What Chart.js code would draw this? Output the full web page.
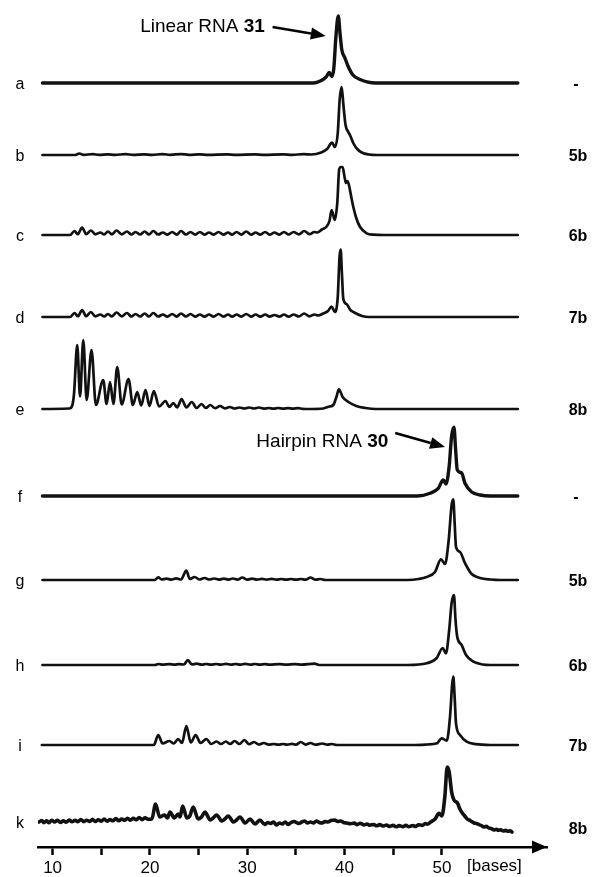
<!DOCTYPE html>
<html>
<head>
<meta charset="utf-8">
<script src="https://cdn.jsdelivr.net/npm/chart.js@4.4.1/dist/chart.umd.min.js"></script>
<style>
  html, body { margin: 0; padding: 0; background: #fff; }
  #wrap { width: 594px; height: 877px; }
</style>
</head>
<body>
<div id="wrap"><canvas id="gelChart" width="594" height="877"></canvas></div>
<script>
// lanes, top to bottom
const laneNames = ['a', 'b', 'c', 'd', 'e', 'f', 'g', 'h', 'i', 'k'];
const laneTags = ['-', '5b', '6b', '7b', '8b', '-', '5b', '6b', '7b', '8b'];
// baseline of every lane on the shared intensity axis
const laneOffsets = [764, 692, 612, 530, 438, 351, 267, 182, 102, 25];
const tickValues = [10, 15, 20, 25, 30, 35, 40, 45, 50];

// [bases, signal]
const traceA = [[8.96,0],[36.8,0],[37.5,2],[38.1,6],[38.43,10.5],[38.67,6.5],[38.9,15],[39.1,45],[39.35,67],[39.55,48],
  [39.72,33],[40.04,25],[40.35,17],[40.86,8],[41.6,3.5],[42.3,1.2],[43.2,0],[57.8,0]];

const traceB = [[8.96,0],[12.3,0],[12.75,1.5],[13.2,0.2],[14.1,0.8],[14.8,0.2],[15.7,0.7],[16.4,0.2],[17.5,0.8],[18.3,0.2],
  [19.4,0.7],[20.2,0.2],[21.3,0.8],[22.1,0.2],[23.2,0.9],[24.0,0.2],[25.1,0.7],[26,0.2],[27.9,0.6],[28.8,0.2],
  [30.8,0.7],[31.7,0.2],[33.7,0.6],[34.6,0.2],[35.8,0.8],[36.6,0.5],[37.6,2.5],[38.2,6],[38.71,12.3],[39.01,8],
  [39.3,22],[39.5,56],[39.7,68],[39.88,50],[40.1,30],[40.38,23],[40.6,19],[40.89,12],[41.3,6],[41.76,2.5],[42.5,0.5],[43.3,0],[57.8,0]];

const traceC = [[8.96,0],[11.8,0],[12.25,4],[12.6,0.8],[13.03,7.5],[13.45,0.8],[13.93,4.5],[14.4,0.6],[14.9,2.5],[15.3,0.5],
  [15.68,3.5],[16.1,0.6],[16.57,4.5],[17.1,0.6],[17.63,3.5],[18.1,0.5],[18.52,3],[19.0,0.5],[19.46,3.5],[19.9,0.5],
  [20.35,4],[20.85,0.5],[21.33,2.5],[21.8,0.4],[22.29,3],[22.75,0.4],[23.2,4],[23.7,0.5],[24.16,3],[24.65,0.4],
  [25.14,3],[25.6,0.4],[26.07,2.5],[26.55,0.4],[27.05,3],[27.55,0.4],[28.02,2.5],[28.45,0.4],[28.91,3],[29.4,0.4],
  [29.89,3.5],[30.4,0.4],[30.86,2.5],[31.35,0.4],[31.84,3],[32.3,0.4],[32.81,2.5],[33.3,0.4],[33.78,3],[34.25,0.5],
  [34.76,3],[35.3,0.6],[35.85,4],[36.4,0.8],[36.9,3],[37.2,2.5],[37.67,5.5],[38.16,8.5],[38.45,14],[38.67,25],
  [39.0,15],[39.25,32],[39.45,66],[39.62,68],[39.8,68],[40.0,58],[40.15,52],[40.3,54],[40.45,50],[40.65,40],
  [40.9,28],[41.2,17],[41.58,8.3],[42.27,1.7],[43,0.3],[44,0],[57.8,0]];

const traceD = [[8.96,0],[11.8,0],[12.25,4],[12.6,0.8],[13.03,7],[13.45,0.8],[13.93,5],[14.4,0.6],[14.9,2.5],[15.3,0.5],
  [15.68,3],[16.1,0.6],[16.57,4.5],[17.1,0.6],[17.63,4],[18.1,0.5],[18.52,3],[19.0,0.5],[19.46,3.5],[19.9,0.5],
  [20.35,4],[20.85,0.5],[21.33,2.5],[21.8,0.4],[22.29,3],[22.75,0.4],[23.2,3.5],[23.7,0.5],[24.16,3],[24.65,0.4],
  [25.14,2.5],[25.6,0.4],[26.07,2.5],[26.55,0.4],[27.05,3],[27.55,0.4],[28.02,2.5],[28.45,0.4],[28.91,2.5],[29.4,0.4],
  [29.89,3],[30.4,0.4],[30.86,2.5],[31.35,0.4],[31.84,2.5],[32.3,0.4],[32.81,2],[33.3,0.4],[33.78,2.5],[34.25,0.4],
  [34.76,2.5],[35.3,0.5],[35.85,3.5],[36.4,0.6],[36.9,2.5],[37.3,1.5],[37.8,3.5],[38.3,6],[38.67,10.5],[39.0,5],
  [39.3,20],[39.48,60],[39.6,67.5],[39.72,45],[39.87,18],[40.2,13],[40.6,7],[40.9,5],[41.8,1],[42.5,0],[57.8,0]];

const traceE = [[8.96,0],[11.7,0.5],[12.0,3],[12.2,15],[12.53,64],[12.82,12.5],[13.15,69],[13.5,9],[14.0,59],[14.45,4],
  [15.2,29],[15.55,5],[15.9,27],[16.25,5],[16.64,42],[17.1,4.5],[17.8,30],[18.25,4],[18.7,17],[19.1,3.5],
  [19.55,19],[19.95,3],[20.4,18],[20.95,2.5],[21.6,8],[22.0,2],[22.4,6],[22.8,1.5],[23.25,10],[23.75,1.5],
  [24.3,7],[24.8,1],[25.3,5],[25.75,1],[26.2,4],[26.7,0.8],[27.2,3],[27.7,0.6],[28.2,2],[28.7,0.5],
  [29.2,1.5],[29.7,0.5],[30.2,1.5],[30.7,0.5],[31.2,1.5],[31.7,0.4],[32.2,1],[32.7,0.3],[33.2,1],[33.7,0.3],
  [34.2,0.8],[34.7,0.3],[35.2,0.8],[35.7,0.2],[36.3,0],[37.8,0.5],[38.45,2.5],[38.84,4],[39.16,12],[39.42,19.7],
  [39.8,12],[40.4,7],[41.2,3],[42.15,1],[43.2,0],[57.8,0]];

const traceF = [[8.96,0],[47.5,0],[48.78,2.7],[49.63,7.7],[50.14,16],[50.42,12],[50.75,30],[51.0,60],[51.24,68.7],[51.42,45],
  [51.58,26],[52.03,23],[52.37,12.7],[53.06,4],[53.92,1],[55,0],[57.8,0]];

const traceG = [[8.96,0],[20.5,0],[20.86,2.7],[21.2,0.5],[21.7,1.3],[22.2,0.4],[22.7,1.7],[23.2,0.5],[23.74,9.3],[24.1,1],
  [24.6,3],[25.1,0.5],[25.6,2],[26.1,0.5],[26.6,1.5],[27.1,0.4],[27.6,1.3],[28.1,0.4],[28.5,1.5],[29.0,0.4],
  [29.5,2.5],[30.0,0.4],[30.5,1.3],[31.0,0.4],[31.5,1.2],[32.0,0.3],[32.5,1.2],[33.0,0.3],[33.5,1],[34.0,0.3],
  [34.5,1],[35.0,0.3],[35.5,1],[36.0,0.3],[36.5,2.5],[37.0,0.3],[37.5,1],[38,0],[46.5,0],[47.6,1],
  [48.44,3],[49.29,8],[49.9,20.7],[50.32,16],[50.7,40],[51.0,75],[51.17,80.7],[51.32,55],[51.45,33],[51.86,28],
  [52.37,17],[53.06,6],[53.92,2],[55,0.5],[56,0],[57.8,0]];

const traceH = [[8.96,0],[20.5,0],[20.9,1],[21.3,0.3],[22,0.8],[22.5,0.3],[23,0.8],[23.5,0.5],[23.9,5],[24.3,0.5],
  [24.8,1.3],[25.3,0.4],[25.8,1],[26.3,0.3],[26.8,1],[27.3,0.3],[27.8,1.2],[28.3,0.3],[28.8,1],[29.3,0.3],
  [29.8,1.2],[30.3,0.3],[30.8,1],[31.3,0.3],[31.8,0.9],[32.3,0.3],[33.3,0.8],[34.0,0.3],[34.9,0.8],[35.6,0.3],
  [36.9,1.3],[37.4,0],[46.5,0],[48.44,1.7],[49.47,7],[50.08,17],[50.42,11.7],[50.75,35],[51.0,62],[51.24,70],
  [51.4,45],[51.58,28],[52.03,20],[52.48,10],[53.23,3.3],[54.2,0.5],[55,0],[57.8,0]];

const traceI = [[8.9,0],[20.4,0],[20.86,10],[21.3,1.5],[22.0,4],[22.45,1.5],[22.9,6],[23.3,2],[23.74,19],[24.2,2.5],
  [24.7,10],[25.2,2],[25.8,6],[26.3,1],[26.85,3.5],[27.3,1],[27.8,3.5],[28.25,1],[28.7,4],[29.2,1],
  [29.7,5],[30.2,0.8],[30.7,3],[31.2,0.5],[31.7,2],[32.2,0.4],[32.7,1],[33.2,0.3],[33.7,1],[34.1,0.3],
  [34.6,1.2],[35.0,0.3],[35.5,3],[36.0,0.4],[36.5,2],[37.0,0.3],[37.7,1.5],[38.2,0.3],[38.7,1],[39.2,0],
  [47,0],[48.5,0.5],[49.5,1.7],[49.98,6.7],[50.5,4.3],[50.85,30],[51.05,60],[51.17,68.3],[51.3,50],[51.45,21.7],
  [51.86,10],[52.55,3.3],[53.5,0.8],[55,0],[57.8,0]];

const traceK = [[8.6,0],[8.9,1.5],[9.1,-0.6],[9.4,1.2],[9.6,-0.8],[9.9,1.6],[10.2,0],[10.5,1.8],[10.8,-0.5],[11.1,1.2],
  [11.4,-0.2],[11.7,2],[12.0,0.2],[12.3,1.6],[12.6,0.4],[12.9,2.4],[13.2,0.4],[13.5,1.8],[13.8,0.6],[14.1,2.6],
  [14.4,0.6],[14.7,2.2],[15.0,0.8],[15.3,3],[15.6,0.8],[15.9,2.4],[16.2,1.2],[16.5,3.4],[16.8,1.2],[17.1,3],
  [17.4,1.8],[17.7,3.8],[18.0,1.8],[18.3,3.6],[18.6,2.2],[18.9,4.4],[19.2,2.4],[19.5,4.2],[19.8,2.8],[20.2,3],
  [20.58,18],[21.0,5],[21.5,7],[21.8,4],[22.06,10],[22.5,4],[22.9,8],[23.1,5],[23.36,16],[23.8,4],
  [24.1,6],[24.45,15],[24.95,3],[25.3,5],[25.65,10],[26.2,2],[26.5,4],[26.85,7],[27.4,1],[27.7,3],
  [28.05,6],[28.6,0],[28.9,2],[29.25,5],[29.8,-1],[30.28,3],[30.8,-2],[31.3,2],[31.8,-2.5],[32.1,-0.5],
  [32.4,-1.5],[32.7,0],[33,-3],[33.3,-1],[33.6,-2],[33.9,0],[34.2,-2.5],[34.5,-0.5],[34.8,0.5],[35.3,-1.5],
  [35.6,0],[35.9,1],[36.2,-1],[36.5,0],[36.8,-1],[37.1,1],[37.4,-0.5],[37.7,-1],[38.0,0.5],[38.3,0],
  [38.6,1.5],[39,2],[39.3,0.5],[39.6,1],[39.9,-0.5],[40.2,-1],[40.6,-1.8],[41,-1],[41.3,-2.6],[41.6,-1.2],
  [42,-3],[42.3,-2],[42.6,-3.2],[43,-2.5],[43.3,-3.8],[43.6,-2.6],[44,-4],[44.3,-3],[44.6,-4.4],[45,-3.4],
  [45.3,-4.8],[45.6,-3.6],[46,-4.6],[46.3,-3.4],[46.6,-4.8],[47,-3.6],[47.3,-4.4],[47.6,-2.8],[48,-3.4],[48.3,-1.6],
  [48.5,-2.2],[48.85,0],[49.3,3],[49.7,8.7],[50.0,6],[50.3,25],[50.55,55],[50.75,50],[51.0,30],[51.24,22],
  [51.6,19],[51.85,13],[52.1,9],[52.35,6],[52.6,3],[52.9,1.5],[53.3,-1],[53.55,-1.5],[53.8,-2.5],[54.05,-3.5],
  [54.3,-5],[54.55,-4.4],[54.8,-5.8],[55.1,-6.6],[55.35,-8],[55.6,-7.2],[55.8,-8.2],[56.05,-7.8],[56.3,-9],[56.55,-8.4],
  [56.8,-9.2],[57.0,-8.8],[57.2,-10]];

const traces = [traceA, traceB, traceC, traceD, traceE, traceF, traceG, traceH, traceI, traceK];

const FONT = '"Liberation Sans", Arial, Helvetica, sans-serif';

const datasets = traces.map((pts, i) => ({
  label: laneNames[i],
  data: pts.map(p => ({ x: p[0], y: laneOffsets[i] + p[1] })),
  borderColor: '#111',
  borderWidth: (i === 0 || i === 5) ? 3.4 : (i === 9 ? 3.6 : 2.7),
  borderJoinStyle: 'round',
  borderCapStyle: 'round',
  cubicInterpolationMode: 'monotone',
  pointRadius: 0,
  fill: false
}));

function arrow(ctx, x0, y0, x1, y1) {
  const ang = Math.atan2(y1 - y0, x1 - x0);
  const len = 15, half = 6;
  const bx = x1 - Math.cos(ang) * len, by = y1 - Math.sin(ang) * len;
  ctx.beginPath();
  ctx.moveTo(x0, y0);
  ctx.lineTo(bx, by);
  ctx.stroke();
  ctx.beginPath();
  ctx.moveTo(x1, y1);
  ctx.lineTo(bx + Math.sin(ang) * half, by - Math.cos(ang) * half);
  ctx.lineTo(bx - Math.sin(ang) * half, by + Math.cos(ang) * half);
  ctx.closePath();
  ctx.fill();
}

const labelsPlugin = {
  id: 'laneLabels',
  afterDraw(chart) {
    const { ctx, scales: { x, y }, chartArea } = chart;
    ctx.save();
    ctx.fillStyle = '#000';
    ctx.strokeStyle = '#000';
    ctx.textBaseline = 'alphabetic';
    ctx.textAlign = 'center';

    ctx.font = '16px ' + FONT;
    laneNames.forEach((n, i) => ctx.fillText(n, 20, y.getPixelForValue(laneOffsets[i]) + 5.5));

    ctx.font = 'bold 16px ' + FONT;
    laneTags.forEach((t, i) => {
      const yy = y.getPixelForValue(laneOffsets[i]) + 5.5 + (i === 9 ? 6 : 0);
      ctx.fillText(t, t === '-' ? 576 : 578, yy);
    });

    // annotations
    const notes = [
      { a: 'Linear RNA ', b: '31', tx: 31.8, ty: 822, from: [32.6, 820], to: [38.07, 811] },
      { a: 'Hairpin RNA ', b: '30', tx: 44.5, ty: 407, from: [45.2, 414], to: [50.33, 400] }
    ];
    ctx.textAlign = 'left';
    ctx.lineWidth = 2.7;
    notes.forEach(n => {
      ctx.font = 'bold 19px ' + FONT;
      const wb = ctx.measureText(n.b).width;
      ctx.font = '19px ' + FONT;
      const wa = ctx.measureText(n.a).width;
      const right = x.getPixelForValue(n.tx);
      const base = y.getPixelForValue(n.ty) + 7;
      ctx.fillText(n.a, right - wa - wb, base);
      ctx.font = 'bold 19px ' + FONT;
      ctx.fillText(n.b, right - wb, base);
      arrow(ctx, x.getPixelForValue(n.from[0]), y.getPixelForValue(n.from[1]),
        x.getPixelForValue(n.to[0]), y.getPixelForValue(n.to[1]));
    });

    // axis arrow head and unit
    const ay = chartArea.bottom;
    const ax = chartArea.right;
    ctx.beginPath();
    ctx.moveTo(ax, ay);
    ctx.lineTo(ax - 15, ay - 6.5);
    ctx.lineTo(ax - 15, ay + 6.5);
    ctx.closePath();
    ctx.fill();
    ctx.font = '17px ' + FONT;
    ctx.fillText('[bases]', 467, ay + 24);
    ctx.restore();
  }
};

new Chart(document.getElementById('gelChart').getContext('2d'), {
  type: 'line',
  data: { datasets },
  options: {
    responsive: false,
    animation: false,
    layout: { padding: { left: 38, right: 47, top: 0, bottom: 0 } },
    plugins: { legend: { display: false }, tooltip: { enabled: false } },
    scales: {
      x: {
        type: 'linear',
        min: 8.5,
        max: 60.8,
        afterBuildTicks: s => { s.ticks = tickValues.map(v => ({ value: v })); },
        afterFit: s => { s.height = 30; },
        grid: { drawOnChartArea: false, tickLength: 8, tickWidth: 2.5, tickColor: '#000' },
        border: { display: true, color: '#000', width: 2.5 },
        ticks: {
          callback: v => (v % 10 === 0 ? String(v) : ''),
          color: '#000',
          font: { size: 17, family: FONT },
          padding: 3,
          maxRotation: 0,
          autoSkip: false
        }
      },
      y: { display: false, min: 0, max: 847 }
    }
  },
  plugins: [labelsPlugin]
});
</script>
</body>
</html>
